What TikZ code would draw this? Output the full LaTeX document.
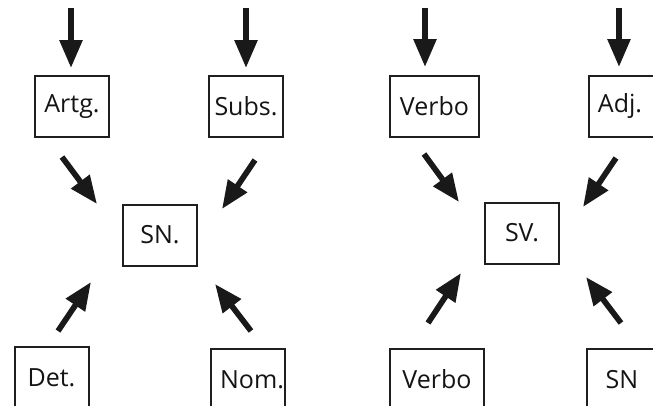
\documentclass[tikz,border=0pt]{standalone}
\usepackage{fontspec}
\setmainfont{Open Sans}
\usetikzlibrary{arrows.meta}
\begin{document}
\begin{tikzpicture}[x=1pt,y=-1pt,
  lbl/.style={font=\fontsize{25}{29}\selectfont,text=black!92},
  wbox/.style={draw=black!88,line width=2pt,minimum width=74pt,minimum height=61pt,inner sep=0pt,lbl},
  fat/.style={line width=5.7pt,draw=black!90,-{Triangle[width=22pt,length=28pt]}}]
\useasboundingbox (0,0) rectangle (653,405);
% boxes
\node[wbox] (artg) at (72,106.5) {Artg.};
\node[wbox] (subs) at (246,106) {Subs.};
\node[wbox] (sn) at (160,235) {SN.};
\node[wbox] (det) at (51.5,377.5) {Det.};
\node[wbox,label={[lbl,xshift=4pt]center:Nom.}] (nom) at (248,379.5) {};
\node[wbox,minimum width=89pt] (verbo) at (434.5,106) {Verbo};
\node[wbox,label={[lbl,xshift=-6pt]center:Adj.}] (adj) at (626,106) {};
\node[wbox] (sv) at (522,233) {SV.};
\node[wbox,minimum width=94pt] (verbob) at (437,379.5) {Verbo};
\node[wbox,label={[lbl,xshift=-2pt]center:SN}] (snb) at (624,379.5) {};
% arrow ends
\coordinate (a1s) at (71,8);   \coordinate (a1e) at (71,68);
\coordinate (a2s) at (246,8);  \coordinate (a2e) at (246,68);
\coordinate (a3s) at (62,157); \coordinate (a3e) at (97,204);
\coordinate (a4s) at (255,160);\coordinate (a4e) at (222,209);
\coordinate (a5s) at (58,331); \coordinate (a5e) at (91,282);
\coordinate (a6s) at (251,331);\coordinate (a6e) at (215,284);
\coordinate (b1s) at (425,8);  \coordinate (b1e) at (425,67);
\coordinate (b2s) at (619,8);  \coordinate (b2e) at (619,67);
\coordinate (b3s) at (424,154);\coordinate (b3e) at (459,202);
\coordinate (b4s) at (616,158);\coordinate (b4e) at (583,207);
\coordinate (b5s) at (428,323);\coordinate (b5e) at (461,273);
\coordinate (b6s) at (621,323);\coordinate (b6e) at (586,277);
\foreach \a in {a1,a2,a3,a4,a5,a6,b1,b2,b3,b4,b5,b6}
  \draw[fat] (\a s) -- (\a e);
\end{tikzpicture}
\end{document}
